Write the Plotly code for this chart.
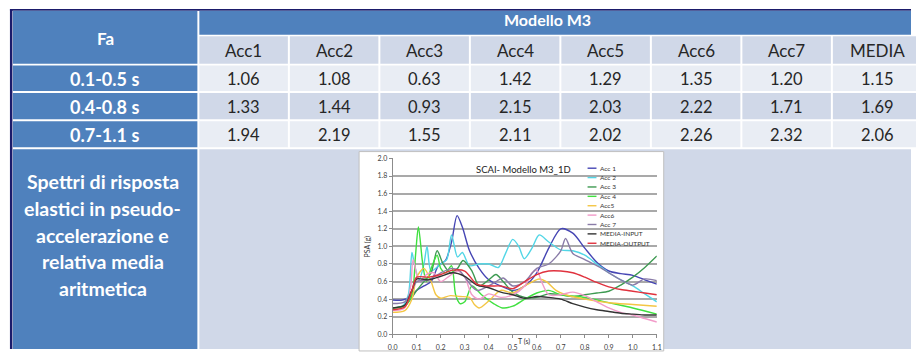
import plotly.graph_objects as go

W, H = 916, 352

# ---------------- table data ----------------
table_title = "Modello M3"
corner_label = "Fa"
col_labels = ["Acc1", "Acc2", "Acc3", "Acc4", "Acc5", "Acc6", "Acc7", "MEDIA"]
row_labels = ["0.1-0.5 s", "0.4-0.8 s", "0.7-1.1 s"]
fa_01_05 = [1.06, 1.08, 0.63, 1.42, 1.29, 1.35, 1.20, 1.15]
fa_04_08 = [1.33, 1.44, 0.93, 2.15, 2.03, 2.22, 1.71, 1.69]
fa_07_11 = [1.94, 2.19, 1.55, 2.11, 2.02, 2.26, 2.32, 2.06]
bottom_label = ["Spettri di risposta", "elastici in pseudo-", "accelerazione e",
                "relativa media", "aritmetica"]

# ---------------- spectra data (T in s, PSA in g) ----------------
chart_title = "SCAI- Modello M3_1D"
T_acc1 = [0, 0.04, 0.07, 0.1, 0.13, 0.16, 0.19, 0.22, 0.245, 0.268, 0.29, 0.32, 0.36, 0.4, 0.45,
          0.5, 0.55, 0.6, 0.65, 0.7, 0.75, 0.8, 0.85, 0.9, 0.95, 1.0, 1.05, 1.1]
psa_acc1 = [0.39, 0.39, 0.42, 0.5, 0.55, 0.6, 0.78, 0.84, 1.05, 1.35, 1.22, 0.95, 0.75, 0.62, 0.55,
            0.5, 0.55, 0.7, 0.98, 1.2, 1.15, 0.98, 0.82, 0.72, 0.69, 0.67, 0.62, 0.57]
T_acc2 = [0, 0.04, 0.065, 0.08, 0.09, 0.11, 0.13, 0.143, 0.16, 0.2, 0.225, 0.245, 0.27, 0.29,
          0.32, 0.36, 0.4, 0.44, 0.47, 0.5, 0.525, 0.548, 0.58, 0.61, 0.65, 0.7, 0.75, 0.8, 0.85,
          0.9, 0.95, 1.0, 1.05, 1.1]
psa_acc2 = [0.3, 0.32, 0.45, 0.93, 0.8, 0.62, 0.8, 1.0, 0.72, 0.8, 0.85, 1.13, 0.88, 0.93,
            0.78, 0.8, 0.8, 0.76, 0.92, 1.08, 1.0, 0.86, 0.98, 1.13, 1.05, 0.96, 0.95, 0.9, 0.8,
            0.7, 0.62, 0.55, 0.46, 0.37]
T_acc3 = [0, 0.05, 0.08, 0.1, 0.13, 0.16, 0.185, 0.21, 0.24, 0.27, 0.293, 0.33, 0.36, 0.4, 0.43,
          0.46, 0.5, 0.55, 0.6, 0.65, 0.7, 0.75, 0.8, 0.85, 0.9, 0.95, 1.0, 1.05, 1.1]
psa_acc3 = [0.3, 0.33, 0.42, 0.5, 0.6, 0.7, 0.95, 0.8, 0.7, 0.75, 0.84, 0.72, 0.55, 0.62, 0.68,
            0.6, 0.48, 0.42, 0.42, 0.46, 0.45, 0.43, 0.45, 0.47, 0.49, 0.56, 0.65, 0.76, 0.89]
T_acc4 = [0, 0.05, 0.08, 0.095, 0.107, 0.125, 0.14, 0.16, 0.185, 0.2, 0.22, 0.245, 0.262, 0.28,
          0.3, 0.33, 0.37, 0.42, 0.457, 0.5, 0.55, 0.6, 0.65, 0.7, 0.8, 0.9, 1.0, 1.1]
psa_acc4 = [0.3, 0.32, 0.45, 0.9, 1.22, 0.8, 0.6, 0.75, 0.9, 0.75, 0.7, 0.78, 0.45, 0.35,
            0.37, 0.55, 0.45, 0.35, 0.3, 0.32, 0.4, 0.47, 0.5, 0.45, 0.42, 0.36, 0.3, 0.23]
T_acc5 = [0, 0.05, 0.08, 0.1, 0.13, 0.16, 0.18, 0.2, 0.24, 0.28, 0.32, 0.34, 0.36, 0.4, 0.45,
          0.5, 0.55, 0.61, 0.64, 0.68, 0.72, 0.8, 0.9, 1.0, 1.1]
psa_acc5 = [0.25, 0.27, 0.4, 0.65, 0.75, 0.6, 0.45, 0.41, 0.44, 0.43, 0.42, 0.34, 0.3, 0.38, 0.5,
            0.47, 0.55, 0.63, 0.6, 0.5, 0.45, 0.4, 0.36, 0.34, 0.32]
T_acc6 = [0, 0.05, 0.075, 0.085, 0.11, 0.14, 0.17, 0.2, 0.23, 0.27, 0.3, 0.33, 0.36, 0.4, 0.45,
          0.5, 0.55, 0.58, 0.6, 0.62, 0.65, 0.7, 0.75, 0.8, 0.85, 0.9, 0.95, 1.0, 1.05, 1.1]
psa_acc6 = [0.27, 0.3, 0.55, 0.85, 0.6, 0.68, 0.7, 0.6, 0.65, 0.72, 0.65, 0.45, 0.4, 0.46, 0.42,
            0.45, 0.55, 0.7, 0.73, 0.6, 0.45, 0.45, 0.48, 0.44, 0.37, 0.3, 0.25, 0.22, 0.18, 0.14]
T_acc7 = [0, 0.05, 0.08, 0.1, 0.15, 0.2, 0.25, 0.28, 0.3, 0.35, 0.4, 0.43, 0.46, 0.5, 0.55,
          0.6, 0.65, 0.7, 0.72, 0.75, 0.8, 0.85, 0.9, 0.95, 1.0, 1.05, 1.1]
psa_acc7 = [0.35, 0.37, 0.5, 0.6, 0.62, 0.7, 0.75, 0.72, 0.65, 0.5, 0.55, 0.6, 0.64, 0.55, 0.6,
            0.75, 0.8, 0.95, 1.09, 0.92, 0.85, 0.78, 0.7, 0.62, 0.56, 0.63, 0.61]
T_media = [0, 0.05, 0.08, 0.1, 0.15, 0.2, 0.25, 0.3, 0.35, 0.4, 0.45, 0.5, 0.55, 0.6, 0.65,
           0.7, 0.75, 0.8, 0.85, 0.9, 0.95, 1.0, 1.05, 1.1]
psa_media_input = [0.3, 0.33, 0.5, 0.63, 0.62, 0.66, 0.7, 0.66, 0.56, 0.53, 0.48, 0.45, 0.41,
                   0.43, 0.42, 0.4, 0.35, 0.31, 0.28, 0.26, 0.24, 0.23, 0.22, 0.22]
psa_media_output = [0.28, 0.31, 0.5, 0.65, 0.65, 0.68, 0.73, 0.72, 0.57, 0.55, 0.55, 0.52, 0.6,
                    0.68, 0.72, 0.72, 0.7, 0.65, 0.59, 0.54, 0.51, 0.49, 0.47, 0.45]
series_names = ["Acc 1", "Acc 2", "Acc 3", "Acc 4", "Acc5", "Acc6", "Acc 7",
                "MEDIA-INPUT", "MEDIA-OUTPUT"]
series_colors = ["#4646B4", "#52D6E6", "#3E9A52", "#3FE03F", "#F4C644", "#F29BC9",
                 "#8A7CA8", "#333333", "#E0323E"]
x_ticks = [0.0, 0.1, 0.2, 0.3, 0.4, 0.5, 0.6, 0.7, 0.8, 0.9, 1.0, 1.1]

series = [(T_acc1, psa_acc1), (T_acc2, psa_acc2), (T_acc3, psa_acc3), (T_acc4, psa_acc4),
          (T_acc5, psa_acc5), (T_acc6, psa_acc6), (T_acc7, psa_acc7),
          (T_media, psa_media_input), (T_media, psa_media_output)]


def X(px):
    return px / W


def Y(py):
    return 1 - py / H


BLUE = "#4F81BD"
LIGHT = "#E9EDF4"
MID = "#D0D8E8"
NAVY = "#1B1B6B"
FONT = "Lato"

shapes = []
ann = []


def rect(x0, y0, x1, y1, color, layer="below", line=None):
    shapes.append(dict(type="rect", xref="paper", yref="paper", x0=X(x0), x1=X(x1),
                       y0=Y(y1), y1=Y(y0), fillcolor=color, layer=layer,
                       line=line or dict(width=0)))


def text(px, py, s, size, color, bold=False, xanchor="center", angle=0, family=FONT):
    ann.append(dict(xref="paper", yref="paper", x=X(px), y=Y(py), text=f"<b>{s}</b>" if bold else s,
                    showarrow=False, xanchor=xanchor, yanchor="middle", textangle=angle,
                    font=dict(family=family, size=size, color=color)))


# ---- table geometry ----
left_x0, left_x1 = 8, 194.5
data_x0 = 196.5
col_w = 91.5
rows_y = [(62, 88), (90, 117), (119, 145.5)]
row_colors = [LIGHT, MID, LIGHT]

# borders
rect(5, 4, 7.5, H, NAVY)
rect(5, 4, W, 6, NAVY)
# left column
rect(left_x0, 6, left_x1, 60, BLUE)
for (y0, y1) in rows_y:
    rect(left_x0, y0, left_x1, y1, BLUE)
rect(left_x0, 147.5, left_x1, H, BLUE)
# header
rect(data_x0, 6, W, 30.5, BLUE)
for k in range(len(col_labels)):
    cx0 = data_x0 + k * col_w
    cx1 = cx0 + col_w - 2
    rect(cx0, 32, cx1, 60, MID)
    for (y0, y1), c in zip(rows_y, row_colors):
        rect(cx0, y0, cx1, y1, c)
rect(data_x0, 147.5, W, H, MID)

# table texts
text(102, 34, corner_label, 17, "white", bold=True)
text(548, 15, table_title, 16, "white", bold=True)
for k, lab in enumerate(col_labels):
    cx = data_x0 + k * col_w + col_w / 2 - 1
    text(cx, 47, lab, 17, "#262626")
for (y0, y1), lab, vals in zip(rows_y, row_labels, [fa_01_05, fa_04_08, fa_07_11]):
    cy = (y0 + y1) / 2 + 0.5
    text(101, cy, lab, 18, "white", bold=True)
    for k, v in enumerate(vals):
        cx = data_x0 + k * col_w + col_w / 2 - 1
        text(cx, cy, f"{v:.2f}", 16.5, "#262626")
for i, line in enumerate(bottom_label):
    text(99, 181 + i * 27.2, line, 19.5, "white", bold=True)

# chart white panel
rect(358, 150, 666, H + 2, "white", line=dict(width=1, color="#BFBFBF"))

# ---- chart ----
plot_x0, plot_x1 = 392, 659
plot_y0, plot_y1 = 157, 337

fig = go.Figure()
for (t, v), name, col in zip(series, series_names, series_colors):
    fig.add_trace(go.Scatter(x=t, y=v, name=name, mode="lines",
                             line=dict(color=col, width=1.4, shape="spline", smoothing=0.8),
                             showlegend=False))

text(524, 168, chart_title, 9.5, "#222222")
text(366, 247, "PSA (g)", 7, "#333333", angle=-90)
text(525, 344, "T (s)", 7, "#333333")

# custom compact legend
for i, (name, col) in enumerate(zip(series_names, series_colors)):
    ly = 167 + i * 9.6
    shapes.append(dict(type="line", xref="paper", yref="paper", x0=X(589), x1=X(598),
                       y0=Y(ly), y1=Y(ly), line=dict(color=col, width=1.4), layer="above"))
    text(599.5, ly, name, 6.5, "#333333", xanchor="left")

fig.update_layout(
    width=W, height=H, margin=dict(l=0, r=0, t=0, b=0),
    paper_bgcolor="white", plot_bgcolor="rgba(0,0,0,0)",
    shapes=shapes, annotations=ann,
    xaxis=dict(domain=[X(plot_x0), X(plot_x1)], range=[0, 1.1], tickmode="array",
               tickvals=x_ticks, ticktext=[f"{t:.1f}" for t in x_ticks],
               showgrid=False, zeroline=False, showline=True, linecolor="#8C8C8C",
               ticks="outside", ticklen=3, tickcolor="#8C8C8C", ticklabelstandoff=3,
               tickfont=dict(family=FONT, size=7, color="#404040")),
    yaxis=dict(domain=[Y(plot_y1), Y(plot_y0)], range=[0, 2.0], dtick=0.2, tickformat=".1f",
               showgrid=True, gridcolor="#A9A9A9", gridwidth=1.5, zeroline=False,
               showline=True, linecolor="#8C8C8C", ticks="outside", ticklen=3,
               tickcolor="#8C8C8C", tickfont=dict(family=FONT, size=7, color="#404040")),
)

# remove the browser's default 8px body margin so the figure sits at the page origin
fig.write_html("out.html", config={"displayModeBar": False},
               post_script="document.body.style.margin='0';document.body.style.overflow='hidden';")
